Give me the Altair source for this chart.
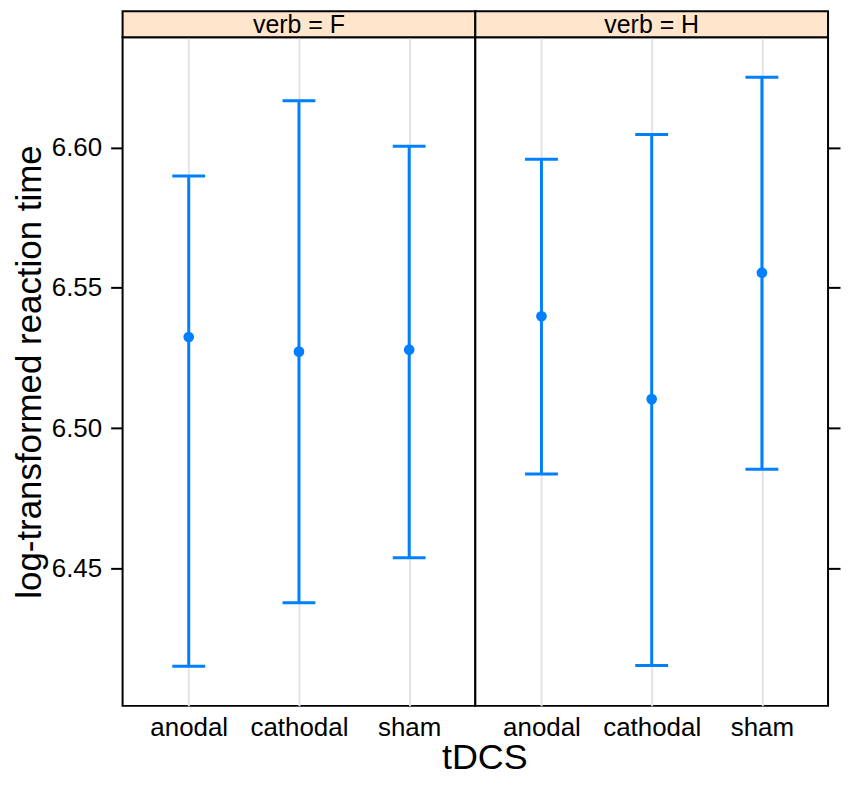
import altair as alt
import pandas as pd

# ---- data ----
verbs = ["F", "F", "F", "H", "H", "H"]
tdcs = ["anodal", "cathodal", "sham", "anodal", "cathodal", "sham"]
fit = [6.5325, 6.5273, 6.5280, 6.5399, 6.5104, 6.5554]
lower = [6.4153, 6.4379, 6.4539, 6.4837, 6.4156, 6.4854]
upper = [6.5898, 6.6166, 6.6004, 6.5958, 6.6046, 6.6250]
categories = ["anodal", "cathodal", "sham"]
y_ticks = [6.45, 6.50, 6.55, 6.60]
panels = ["F", "H"]

df = pd.DataFrame({"verb": verbs, "tDCS": tdcs, "fit": fit,
                   "lower": lower, "upper": upper})

BLUE = "#0080FF"
STRIP = "#FFE5CC"
FONT = "Liberation Sans"
W = 354
H = 671
SH = 26
YDOM = [6.4012, 6.6392]


def panel(v, left):
    d = df[df["verb"] == v]
    base = alt.Chart(d)
    xenc = alt.X(
        "tDCS:N",
        scale=alt.Scale(type="point", domain=categories, padding=0.6),
        axis=alt.Axis(title=None, labelFontSize=26, labelColor="black",
                      labelFont=FONT, labelPadding=9, ticks=False,
                      domain=False, grid=True, gridColor="#E3E3E3",
                      gridWidth=2, labelAngle=0),
    )
    if left:
        yaxis = alt.Axis(orient="left", values=y_ticks, format=".2f",
                         title="log-transformed reaction time",
                         titleFontSize=35, titleFontWeight="normal",
                         titleColor="black", titleFont=FONT, titlePadding=5,
                         labelFontSize=26, labelColor="black", labelFont=FONT,
                         labelPadding=9, tickSize=12, tickWidth=2,
                         tickColor="black", domain=False, grid=False,
                         minExtent=70, maxExtent=70)
    else:
        yaxis = alt.Axis(orient="right", values=y_ticks, labels=False,
                         title=None, tickSize=12, tickWidth=2,
                         tickColor="black", domain=False, grid=False)
    ysc = alt.Scale(domain=YDOM, nice=False, zero=False)

    bars = base.mark_rule(color=BLUE, strokeWidth=3).encode(
        x=xenc, y=alt.Y("lower:Q", scale=ysc, axis=yaxis), y2="upper:Q")
    cap_lo = base.mark_tick(color=BLUE, size=33, thickness=3, opacity=1).encode(
        x=xenc, y=alt.Y("lower:Q", scale=ysc, axis=yaxis))
    cap_hi = base.mark_tick(color=BLUE, size=33, thickness=3, opacity=1).encode(
        x=xenc, y=alt.Y("upper:Q", scale=ysc, axis=yaxis))
    pts = base.mark_circle(color=BLUE, size=115, opacity=1).encode(
        x=xenc, y=alt.Y("fit:Q", scale=ysc, axis=yaxis))

    lab = pd.DataFrame({"label": [f"verb = {v}"]})
    strip_rect = alt.Chart(lab).mark_rect(
        fill=STRIP, stroke="black", strokeWidth=2).encode(
        x=alt.value(0), x2=alt.value(W), y=alt.value(-SH), y2=alt.value(0))
    strip_text = alt.Chart(lab).mark_text(
        fontSize=25, font=FONT, color="black", align="center",
        baseline="middle").encode(
        text="label:N", x=alt.value(W / 2), y=alt.value(-SH / 2 + 1))

    return alt.layer(bars, cap_lo, cap_hi, pts, strip_rect, strip_text).properties(
        width=W, height=H,
        view=alt.ViewBackground(stroke="black", strokeWidth=2, fill="white"))


chart = alt.hconcat(panel("F", True), panel("H", False), spacing=0,
                    bounds="flush").properties(
    title=alt.TitleParams("tDCS", orient="bottom", anchor="middle",
                          fontSize=36, fontWeight="normal", font=FONT,
                          color="black", offset=-1, dx=58),
    padding={"left": 4, "top": 0, "right": 0, "bottom": 0},
).configure(font=FONT).configure_concat(spacing=0)

chart.save("out.html", embed_options={"renderer": "svg", "actions": False})
